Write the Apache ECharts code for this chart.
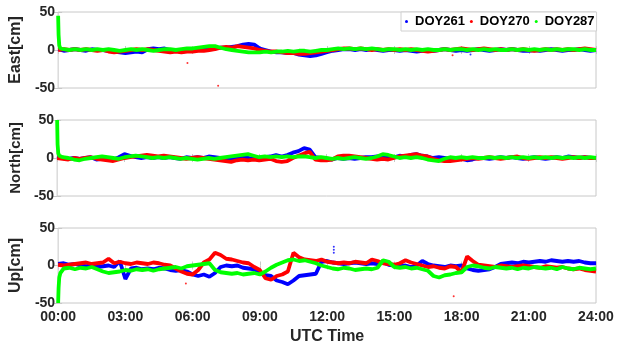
<!DOCTYPE html>
<html><head><meta charset="utf-8">
<script src="https://cdn.jsdelivr.net/npm/echarts@6/dist/echarts.min.js"></script>
<style>html,body{margin:0;padding:0;background:#fff}#c{width:624px;height:346px}</style>
</head><body><div id="c"></div>
<script>
// ---- data (cm), sampled every 15 min from 00:00 to 24:00 ----
const seriesNames = ['DOY261', 'DOY270', 'DOY287'];
const panelNames = ['East[cm]', 'North[cm]', 'Up[cm]'];
const xTickHours = [0, 3, 6, 9, 12, 15, 18, 21, 24];
const yTicks = [-50, 0, 50];

const eastBlue = [1,-1,0,1, 0,-1,1,0, 0,-1,-2,-3, -4,-3,-2,-3, 1,2,1,2, 0,-1,-2,-1, 0,1,0,1, 2,3,3,4, 5,7,8,7, 2,0,-2,-3, -3,-4,-4,-6, -7,-8,-7,-5, -3,-1,0,1, 1,0,1,0, 1,0,-1,0, 0,-1,0,-1, -2,-1,0,-1, 0,1,0,-1, 0,-1,0,1, 0,-1,0,1, 0,1,0,-1, -1,0,-1,0, 1,0,-1,0, 0,1,0,-1, 0];
const eastRed = [0,1,0,1, 0,1,0,-1, 0,-2,-3,-2, -1,0,1,0, 1,0,-1,-2, -3,-2,-3,-2, -2,-1,-1,0, 1,3,4,3, 5,4,3,2, 0,-1,-2,-2, -3,-4,-4,-5, -5,-4,-3,-2, -1,0,1,2, 2,1,2,1, 0,1,0,1, 0,1,0,1, 0,-1,-2,-1, 0,1,0,1, 2,1,0,1, 2,1,0,1, 0,1,0,1, 0,-1,0,1, 0,1,0,1, 0,1,2,1, 0];
const eastGreen = [2,1,0,1, 0,1,0,1, 0,1,0,-1, 0,1,0,1, 0,-1,0,1, 1,0,1,2, 2,3,4,5, 5,3,1,0, -1,-2,-3,-3, -3,-2,-3,-2, -2,-1,-2,-1, -1,-2,-1,0, 0,1,2,1, 2,1,2,1, 2,1,0,1, 1,0,1,0, 1,0,1,0, 0,1,0,1, 1,0,1,0, 1,0,1,0, 0,1,0,1, 0,1,0,1, 0,1,0,1, 1,0,1,0, 0];

const northBlue = [2,0,-1,0, -1,0,1,-2, -1,0,-2,1, 5,3,1,0, 1,0,1,0, 1,0,-1,1, 0,1,0,2, 1,0,-1,0, 0,1,0,-1, 0,1,2,4, 2,4,7,9, 13,11,1,0, -1,-2,0,-1, 0,-1,0,1, 1,2,1,2, 1,3,2,4, 5,3,2,0, 1,0,-1,0, -1,-3,-2,0, 0,-1,0,1, 0,1,0,-1, 0,1,0,-1, 0,1,0,2, 1,0,1,0, 0];
const northRed = [0,-1,-2,0, -1,0,1,-1, -2,-3,-4,-2, 0,1,2,3, 4,3,2,3, 2,1,0,-1, 0,1,0,-1, -2,-3,-4,-5, -3,-2,-3,-2, -3,-2,-1,-4, -5,-4,0,3, 6,8,-2,-3, -3,-2,2,3, 3,2,1,0, -1,-2,-1,-2, 0,2,3,4, 5,3,2,-1, -3,-4,-4,-3, -2,-1,0,-1, 0,1,0,-1, 0,1,2,0, -1,0,1,0, 1,0,-1,0, 1,0,1,0, 0];
const northGreen = [3,1,0,-2, -3,-1,0,1, 2,1,0,-1, 1,2,3,2, 1,0,1,0, 1,0,-1,0, -1,-2,-1,0, -1,0,1,2, 3,4,5,3, 1,2,1,2, 1,2,1,2, 2,1,0,1, 0,-1,0,-1, 0,1,0,-1, 0,2,5,4, 2,0,1,0, 1,0,-2,-3, -4,-1,1,0, 1,0,1,0, 0,1,0,1, 0,1,0,1, 0,1,0,1, 0,1,0,1, 0,1,0,1, 0];

const upBlue = [2,3,1,2, 0,-1,0,-2, -1,0,-2,6, -18,-4,-3,-5, -4,-5,-3,-4, -6,-7,-6,-8, -12,-14,-12,-15, -10,-2,0,-1, 0,-3,-4,-5, -10,-13,-14,-20, -22,-25,-20,-14, -13,-12,-11,5, 6,4,3,2, 3,4,3,2, 3,2,4,1, 0,-1,0,-2, 0,6,2,0, -1,-2,0,-1, 0,-4,-6,-7, -6,-5,-2,2, 3,4,3,5, 4,5,6,5, 7,6,5,6, 5,6,4,3, 3];
const upRed = [1,0,1,2, 3,4,2,3, 4,9,3,5, 3,2,4,3, 2,4,3,1, 0,-4,-8,-11, -12,-6,4,8, 17,14,9,8, 6,4,3,-2, -6,-17,-19,-14, -12,-8,17,11, 8,7,6,8, 5,4,3,4, 3,5,4,3, 8,6,3,2, 1,3,7,4, 2,0,-2,-1, -3,-4,-1,-2, -9,12,6,1, 0,-1,-2,0, -1,-2,-1,0, -1,-2,-3,-1, -2,-3,-2,-4, -5,-4,-6,-7, -8];
const upGreen = [-10,-4,-3,-5, -3,-4,-2,-5, -8,-10,-9,-8, -6,-7,-5,-6, -5,-7,-5,-4, -3,-2,-4,-1, 0,1,2,3, -6,-9,-10,-11, -10,-12,-11,-10, -12,-8,-3,1, 4,7,8,6, 7,5,3,0, -2,-4,-5,-3, -4,-6,-5,-4, -5,-3,7,5, -2,-3,-2,-4, -3,-5,-7,-14, -16,-13,-12,-10, -9,-2,0,-1, -3,-4,-2,-3, -4,-3,-5,-3, -4,-2,-3,-4, -3,-5,-2,-4, -5,-3,-4,-5, -4];

// start-up transients (hours, cm)
const startHours = [0, 0.02, 0.05, 0.1];
const eastGreenStart = [45, 20, 6, 2];
const northGreenStart = [50, 18, 6, 3];
const upGreenStart = [-50, -30, -16, -10];

// isolated outliers [hour, cm]
const eastRedOut = [[5.77, -17], [7.14, -47], [17.6, -7]];
const eastBlueOut = [[18.4, -6]];
const upBlueOut = [[12.3, 17], [12.3, 21], [12.3, 25]];
const upRedOut = [[17.65, -41], [5.7, -24]];

const colors = ['#0000ff', '#ff0000', '#00ff00'];
const hours = eastBlue.map((_, i) => i * 0.25);

function pairs(vals, startV) {
  const out = [];
  if (startV) startV.forEach((v, i) => out.push([startHours[i], v]));
  vals.forEach((v, i) => { if (!(startV && hours[i] <= startHours[startHours.length - 1])) out.push([hours[i], v]); });
  return out;
}

const panels = [
  [eastBlue, eastRed, eastGreen, eastGreenStart, eastBlueOut, eastRedOut],
  [northBlue, northRed, northGreen, northGreenStart, [], []],
  [upBlue, upRed, upGreen, upGreenStart, upBlueOut, upRedOut]
];

const gridTops = [12, 120, 228];
const gridH = 76;
const axisGray = '#c8c8c8';
const textCol = '#262626';
const font = 'Liberation Sans, Arial, sans-serif';

const grid = [], xAxis = [], yAxis = [], series = [];
panels.forEach((p, k) => {
  grid.push({ left: 55, top: gridTops[k], width: 541, height: gridH, show: true, borderColor: axisGray, borderWidth: 1, backgroundColor: '#fff' });
  const bottom = {
    gridIndex: k, type: 'value', min: 0, max: 24, interval: 3, position: 'bottom',
    axisLine: { show: false }, splitLine: { show: false },
    axisTick: { show: true, inside: true, length: 4, lineStyle: { color: axisGray } },
    axisLabel: { show: k === 2, margin: 7, color: textCol, fontWeight: 'bold', fontSize: 14, fontFamily: font,
      formatter: v => xTickHours.includes(v) ? String(v).padStart(2, '0') + ':00' : '' }
  };
  if (k === 2) {
    Object.assign(bottom, { name: 'UTC Time', nameLocation: 'middle', nameGap: 26,
      nameTextStyle: { color: textCol, fontWeight: 'bold', fontSize: 16, fontFamily: font } });
  }
  xAxis.push(bottom);
  xAxis.push({ gridIndex: k, type: 'value', min: 0, max: 24, interval: 3, position: 'top',
    axisLine: { show: false }, splitLine: { show: false }, axisLabel: { show: false },
    axisTick: { show: true, inside: true, length: 4, lineStyle: { color: axisGray } } });
  yAxis.push({ gridIndex: k, type: 'value', min: yTicks[0], max: yTicks[2], interval: 50, position: 'left',
    axisLine: { show: false }, splitLine: { show: false },
    axisTick: { show: true, inside: true, length: 4, lineStyle: { color: axisGray } },
    axisLabel: { margin: 3, color: textCol, fontWeight: 'bold', fontSize: 14, fontFamily: font },
    name: panelNames[k], nameLocation: 'middle', nameGap: 26,
    nameTextStyle: { color: textCol, fontWeight: 'bold', fontSize: k === 1 ? 15 : 16, fontFamily: font } });
  yAxis.push({ gridIndex: k, type: 'value', min: -50, max: 50, interval: 50, position: 'right',
    axisLine: { show: false }, splitLine: { show: false }, axisLabel: { show: false },
    axisTick: { show: true, inside: true, length: 4, lineStyle: { color: axisGray } } });

  const [b, r, g, gs, bo, ro] = p;
  const lines = [[b, null], [r, null], [g, gs]];
  lines.forEach(([vals, st], j) => {
    series.push({ name: seriesNames[j], type: 'line', xAxisIndex: 2 * k, yAxisIndex: 2 * k,
      data: pairs(vals, st), showSymbol: false, symbol: 'circle', symbolSize: 4,
      lineStyle: { color: colors[j], width: 3.8 }, itemStyle: { color: colors[j] }, z: 2 + j, silent: true });
  });
  [[bo, 0], [ro, 1]].forEach(([pts, j]) => {
    if (pts.length) series.push({ name: seriesNames[j], type: 'scatter', xAxisIndex: 2 * k, yAxisIndex: 2 * k,
      data: pts, symbolSize: 2, itemStyle: { color: colors[j] }, z: 2, silent: true });
  });
});

const chart = echarts.init(document.getElementById('c'), null, { renderer: 'canvas' });
chart.setOption({
  animation: false,
  backgroundColor: '#fff',
  grid, xAxis, yAxis, series,
  legend: {
    data: seriesNames.map((n, j) => ({ name: n, icon: 'circle', itemStyle: { color: colors[j] } })),
    left: 401, top: 12, itemWidth: 3, itemHeight: 3, itemGap: 5,
    padding: [3, 2, 3, 4], borderColor: '#d0d0d0', borderWidth: 1, backgroundColor: '#fff',
    textStyle: { color: '#000', fontWeight: 'bold', fontSize: 13, fontFamily: font, padding: [0, 0, 0, 2] },
    z: 10
  }
});
</script></body></html>
